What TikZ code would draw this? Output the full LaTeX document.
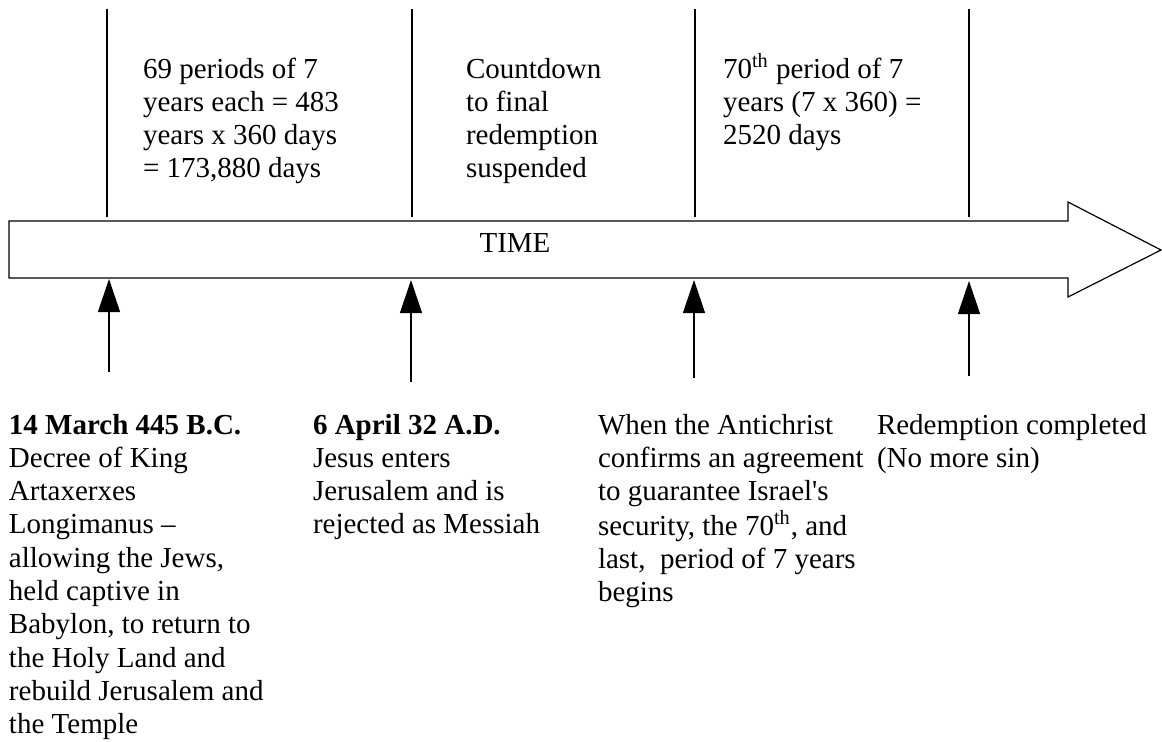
\documentclass[tikz,border=0pt]{standalone}
\usepackage{fontspec}
\setmainfont{Liberation Serif}
\usetikzlibrary{arrows.meta, calc, positioning}
\newcommand{\tlines}[1]{\begin{tabular}[t]{@{}l@{}}#1\end{tabular}}

\begin{document}
\begin{tikzpicture}[x=0.5pt, y=-0.5pt, % one unit is one pixel of the page
            > = {Triangle[length=16.5pt, width=11pt]}, % defined in "arrows.meta
  period line/.style = {draw, line width=0.6pt},
  event arrow/.style = {draw, ->, line width=0.6pt},
          txt/.style = {anchor=base west, inner sep=0pt, outer sep=0pt,
                        font=\fontsize{14.5}{16.65}\selectfont},
                    ]
	\useasboundingbox (0,0) rectangle (1162,741);

	% the time arrow
	\draw[line width=0.6pt] (9,221) -- (1068,221) -- (1068,202) -- (1161,250)
	      -- (1068,297) -- (1068,278) -- (9,278) -- cycle;
	\node[txt, anchor=base] (time) at (515,252) {TIME};

	% lines between the periods
	\coordinate (p1 top) at (107,9);   \coordinate (p1 bot) at (107,217);
	\coordinate (p2 top) at (412,9);   \coordinate (p2 bot) at (412,217);
	\coordinate (p3 top) at (695,9);   \coordinate (p3 bot) at (695,217);
	\coordinate (p4 top) at (969,9);   \coordinate (p4 bot) at (969,217);
	\draw[period line] (p1 top) -- (p1 bot);
	\draw[period line] (p2 top) -- (p2 bot);
	\draw[period line] (p3 top) -- (p3 bot);
	\draw[period line] (p4 top) -- (p4 bot);

	\node[txt] (span1) at (143,78) {\tlines{69 periods of 7\\ years each = 483\\
	      years x 360 days\\ = 173,880 days}};
	\node[txt] (span2) at (466,78) {\tlines{Countdown\\ to final\\ redemption\\ suspended}};
	\node[txt] (span3) at (723,78) {\tlines{70\textsuperscript{th} period of 7\\
	      years (7 x 360) =\\ 2520 days}};

	% the events
	\coordinate (e1 foot) at (109,372);   \coordinate (e1 tip) at (109,279);
	\coordinate (e2 foot) at (411,382);   \coordinate (e2 tip) at (411,280);
	\coordinate (e3 foot) at (694,378);   \coordinate (e3 tip) at (694,280);
	\coordinate (e4 foot) at (969,376);   \coordinate (e4 tip) at (969,281);
	\draw[event arrow] (e1 foot) -- (e1 tip);
	\draw[event arrow] (e2 foot) -- (e2 tip);
	\draw[event arrow] (e3 foot) -- (e3 tip);
	\draw[event arrow] (e4 foot) -- (e4 tip);

	\node[txt] (decree) at (9,434) {\tlines{\textbf{14 March 445 B.C.}\\
	      Decree of King\\ Artaxerxes\\ Longimanus --\\ allowing the Jews,\\
	      held captive in\\ Babylon, to return to\\ the Holy Land and\\
	      rebuild Jerusalem and\\ the Temple}};
	\node[txt] (entry) at (313,434) {\tlines{\textbf{6 April 32 A.D.}\\
	      Jesus enters\\ Jerusalem and is\\ rejected as Messiah}};
	\node[txt] (agreement) at (598,434) {\tlines{When the Antichrist\\
	      confirms an agreement\\ to guarantee Israel\textquotesingle s\\
	      security, the 70\textsuperscript{th}, and\\ last,~ period of 7 years\\ begins}};
	\node[txt] (end) at (877,434) {\tlines{Redemption completed\\ (No more sin)}};
\end{tikzpicture}
\end{document}
